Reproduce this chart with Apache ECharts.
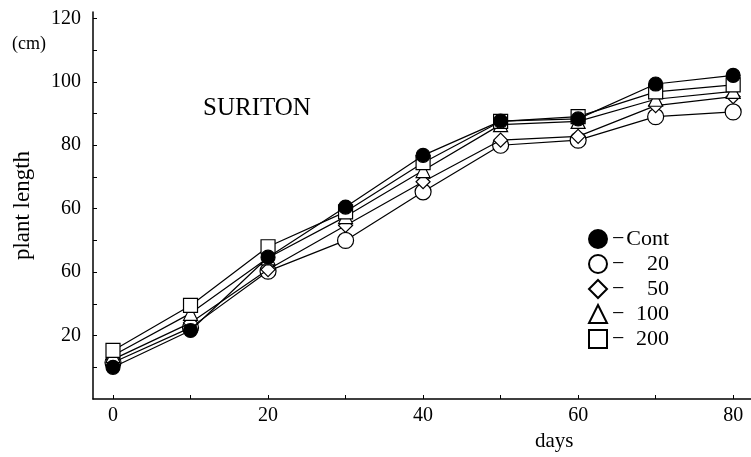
<!DOCTYPE html>
<html><head><meta charset="utf-8">
<script src="https://cdn.jsdelivr.net/npm/echarts@6/dist/echarts.min.js"></script>
<style>html,body{margin:0;padding:0;background:#fff}#c{width:751px;height:457px}</style>
</head><body><div id="c"></div>
<script>
const days = [0, 10, 20, 30, 40, 50, 60, 70, 80];
const contVals = [10.0, 21.6, 44.7, 60.5, 76.8, 87.6, 88.3, 99.3, 102.0];
const v20Vals  = [11.5, 22.5, 40.3, 50.0, 65.3, 80.0, 81.6, 89.0, 90.5];
const v50Vals  = [12.5, 24.0, 40.8, 54.7, 68.5, 81.6, 82.8, 92.5, 95.3];
const v100Vals = [13.7, 27.0, 44.5, 57.5, 72.0, 86.5, 87.5, 94.5, 97.0];
const v200Vals = [15.3, 29.5, 48.0, 59.0, 74.5, 87.5, 89.0, 96.8, 99.0];
const seriesNames = ['Cont', '20', '50', '100', '200'];
const yTickValues = [20, 40, 60, 80, 100, 120];
const yTickLabels = ['20', '60', '60', '80', '100', '120'];
const xTickValues = [0, 20, 40, 60, 80];
const xTickLabels = ['0', '20', '40', '60', '80'];

const FONT = '"Liberation Serif", "DejaVu Serif", serif';
const allVals = [contVals, v20Vals, v50Vals, v100Vals, v200Vals];
const symbols = ['circle', 'circle', 'diamond', 'triangle', 'rect'];
const sizes = [14, 16, 14, 14, 14];
const fills = ['#000', '#fff', '#fff', '#fff', '#fff'];
const zs = [10, 3, 4, 5, 6];

const series = seriesNames.map((n, i) => ({
  name: n,
  type: 'line',
  data: days.map((d, k) => [d, allVals[i][k]]),
  symbol: symbols[i],
  symbolSize: sizes[i],
  z: zs[i],
  lineStyle: { color: '#000', width: 1.2 },
  itemStyle: { color: fills[i], borderColor: '#000', borderWidth: 1.2 },
  showAllSymbol: true,
  animation: false
}));

const chart = echarts.init(document.getElementById('c'), null, { renderer: 'canvas' });
chart.setOption({
  animation: false,
  backgroundColor: '#fff',
  title: {
    text: 'SURITON', left: 198, top: 91,
    textStyle: { fontFamily: FONT, fontSize: 25, fontWeight: 'normal', color: '#000' }
  },
  grid: { left: 93, right: 0, top: 12, bottom: 58 },
  xAxis: {
    type: 'value', min: -2.58, max: 82.3,
    axisLine: { onZero: false, lineStyle: { color: '#000', width: 1.5 } },
    axisTick: { show: true, inside: true, length: 4, lineStyle: { color: '#000' },
      customValues: days },
    axisLabel: { customValues: xTickValues, margin: 7,
      formatter: v => xTickLabels[xTickValues.indexOf(v)],
      fontFamily: FONT, fontSize: 20, color: '#000' },
    splitLine: { show: false }
  },
  yAxis: {
    type: 'value', min: 0, max: 122,
    name: 'plant length', nameLocation: 'middle', nameGap: 59, nameRotate: 90,
    nameTextStyle: { fontFamily: FONT, fontSize: 23, color: '#000' },
    axisLine: { show: true, onZero: false, lineStyle: { color: '#000', width: 1.5 } },
    axisTick: { show: true, inside: true, length: 4, lineStyle: { color: '#000' },
      customValues: [10, 20, 30, 40, 50, 60, 70, 80, 90, 100, 110, 120] },
    axisLabel: { customValues: yTickValues, margin: 12,
      formatter: v => yTickLabels[yTickValues.indexOf(v)],
      fontFamily: FONT, fontSize: 20, color: '#000' },
    splitLine: { show: false }
  },
  legend: {
    orient: 'vertical', left: 583, top: 223, itemGap: 3, padding: 5,
    itemWidth: 18, itemHeight: 18,
    data: seriesNames.map((n, i) => ({ name: n, icon: symbols[i] })),
    formatter: n => '{d|−}{n|' + n + '}',
    textStyle: {
      fontFamily: FONT, fontSize: 22, color: '#000', lineHeight: 20,
      rich: {
        d: { fontFamily: FONT, fontSize: 22, width: 14, lineHeight: 20 },
        n: { fontFamily: FONT, fontSize: 22, width: 43, align: 'right', lineHeight: 20 }
      }
    },
    selectedMode: false
  },
  graphic: [
    { type: 'text', left: 12, top: 35, style: { text: '(cm)', font: '18px ' + FONT, fill: '#000' } },
    { type: 'text', left: 535, top: 431, style: { text: 'days', font: '21px ' + FONT, fill: '#000' } }
  ],
  series: series
});
</script></body></html>
